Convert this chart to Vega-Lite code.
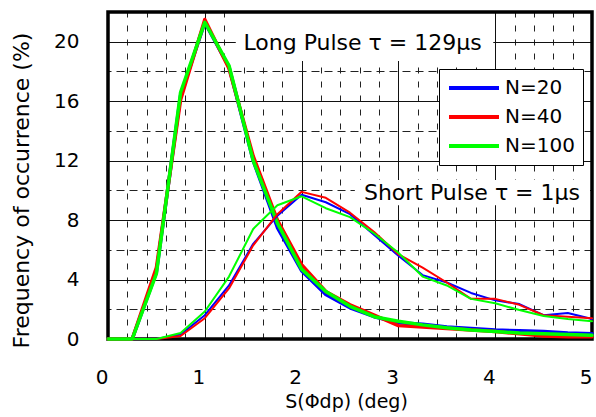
{
  "$schema": "https://vega.github.io/schema/vega-lite/v6.json",
  "width": 484,
  "height": 327,
  "autosize": {"type": "none"},
  "padding": {"left": 108, "top": 12, "right": 4, "bottom": 78},
  "background": "white",
  "config": {
    "view": {"stroke": null},
    "font": "DejaVu Sans",
    "axis": {"labelFont": "DejaVu Sans", "titleFont": "DejaVu Sans", "labelColor": "black", "titleColor": "black", "titleFontWeight": "normal"},
    "legend": {"labelFont": "DejaVu Sans"}
  },
  "datasets": {
    "curves": [
      {"pulse": "Long", "N": "N=20", "x": 0, "y": 0},
      {"pulse": "Long", "N": "N=20", "x": 0.25, "y": 0},
      {"pulse": "Long", "N": "N=20", "x": 0.5, "y": 4.5},
      {"pulse": "Long", "N": "N=20", "x": 0.75, "y": 16.4},
      {"pulse": "Long", "N": "N=20", "x": 1.0, "y": 21.3},
      {"pulse": "Long", "N": "N=20", "x": 1.25, "y": 18.3},
      {"pulse": "Long", "N": "N=20", "x": 1.5, "y": 12.0},
      {"pulse": "Long", "N": "N=20", "x": 1.75, "y": 7.5},
      {"pulse": "Long", "N": "N=20", "x": 2.0, "y": 4.6},
      {"pulse": "Long", "N": "N=20", "x": 2.25, "y": 3.0},
      {"pulse": "Long", "N": "N=20", "x": 2.5, "y": 2.1},
      {"pulse": "Long", "N": "N=20", "x": 2.75, "y": 1.5},
      {"pulse": "Long", "N": "N=20", "x": 3.0, "y": 1.1},
      {"pulse": "Long", "N": "N=20", "x": 3.25, "y": 1.0},
      {"pulse": "Long", "N": "N=20", "x": 3.5, "y": 0.8},
      {"pulse": "Long", "N": "N=20", "x": 3.75, "y": 0.7},
      {"pulse": "Long", "N": "N=20", "x": 4.0, "y": 0.6},
      {"pulse": "Long", "N": "N=20", "x": 4.25, "y": 0.55},
      {"pulse": "Long", "N": "N=20", "x": 4.5, "y": 0.5},
      {"pulse": "Long", "N": "N=20", "x": 4.75, "y": 0.4},
      {"pulse": "Long", "N": "N=20", "x": 5.0, "y": 0.35},
      {"pulse": "Long", "N": "N=40", "x": 0, "y": 0},
      {"pulse": "Long", "N": "N=40", "x": 0.25, "y": 0},
      {"pulse": "Long", "N": "N=40", "x": 0.5, "y": 4.8},
      {"pulse": "Long", "N": "N=40", "x": 0.75, "y": 16.1},
      {"pulse": "Long", "N": "N=40", "x": 1.0, "y": 21.5},
      {"pulse": "Long", "N": "N=40", "x": 1.25, "y": 18.2},
      {"pulse": "Long", "N": "N=40", "x": 1.5, "y": 12.3},
      {"pulse": "Long", "N": "N=40", "x": 1.75, "y": 8.0},
      {"pulse": "Long", "N": "N=40", "x": 2.0, "y": 5.0},
      {"pulse": "Long", "N": "N=40", "x": 2.25, "y": 3.2},
      {"pulse": "Long", "N": "N=40", "x": 2.5, "y": 2.3},
      {"pulse": "Long", "N": "N=40", "x": 2.75, "y": 1.6},
      {"pulse": "Long", "N": "N=40", "x": 3.0, "y": 0.9},
      {"pulse": "Long", "N": "N=40", "x": 3.25, "y": 0.8},
      {"pulse": "Long", "N": "N=40", "x": 3.5, "y": 0.7},
      {"pulse": "Long", "N": "N=40", "x": 3.75, "y": 0.6},
      {"pulse": "Long", "N": "N=40", "x": 4.0, "y": 0.5},
      {"pulse": "Long", "N": "N=40", "x": 4.25, "y": 0.35},
      {"pulse": "Long", "N": "N=40", "x": 4.5, "y": 0.2},
      {"pulse": "Long", "N": "N=40", "x": 4.75, "y": 0.15},
      {"pulse": "Long", "N": "N=40", "x": 5.0, "y": 0.15},
      {"pulse": "Long", "N": "N=100", "x": 0, "y": 0},
      {"pulse": "Long", "N": "N=100", "x": 0.25, "y": 0},
      {"pulse": "Long", "N": "N=100", "x": 0.5, "y": 4.4},
      {"pulse": "Long", "N": "N=100", "x": 0.75, "y": 16.6},
      {"pulse": "Long", "N": "N=100", "x": 1.0, "y": 21.3},
      {"pulse": "Long", "N": "N=100", "x": 1.25, "y": 18.4},
      {"pulse": "Long", "N": "N=100", "x": 1.5, "y": 12.0},
      {"pulse": "Long", "N": "N=100", "x": 1.75, "y": 7.8},
      {"pulse": "Long", "N": "N=100", "x": 2.0, "y": 4.7},
      {"pulse": "Long", "N": "N=100", "x": 2.25, "y": 3.2},
      {"pulse": "Long", "N": "N=100", "x": 2.5, "y": 2.2},
      {"pulse": "Long", "N": "N=100", "x": 2.75, "y": 1.5},
      {"pulse": "Long", "N": "N=100", "x": 3.0, "y": 1.2},
      {"pulse": "Long", "N": "N=100", "x": 3.25, "y": 0.95},
      {"pulse": "Long", "N": "N=100", "x": 3.5, "y": 0.75},
      {"pulse": "Long", "N": "N=100", "x": 3.75, "y": 0.6},
      {"pulse": "Long", "N": "N=100", "x": 4.0, "y": 0.5},
      {"pulse": "Long", "N": "N=100", "x": 4.25, "y": 0.4},
      {"pulse": "Long", "N": "N=100", "x": 4.5, "y": 0.35},
      {"pulse": "Long", "N": "N=100", "x": 4.75, "y": 0.3},
      {"pulse": "Long", "N": "N=100", "x": 5.0, "y": 0.25},
      {"pulse": "Short", "N": "N=20", "x": 0, "y": 0},
      {"pulse": "Short", "N": "N=20", "x": 0.25, "y": 0},
      {"pulse": "Short", "N": "N=20", "x": 0.5, "y": 0},
      {"pulse": "Short", "N": "N=20", "x": 0.75, "y": 0.3},
      {"pulse": "Short", "N": "N=20", "x": 1.0, "y": 1.6},
      {"pulse": "Short", "N": "N=20", "x": 1.25, "y": 3.6},
      {"pulse": "Short", "N": "N=20", "x": 1.5, "y": 6.4},
      {"pulse": "Short", "N": "N=20", "x": 1.75, "y": 8.3},
      {"pulse": "Short", "N": "N=20", "x": 2.0, "y": 9.7},
      {"pulse": "Short", "N": "N=20", "x": 2.25, "y": 9.2},
      {"pulse": "Short", "N": "N=20", "x": 2.5, "y": 8.4},
      {"pulse": "Short", "N": "N=20", "x": 2.75, "y": 7.0},
      {"pulse": "Short", "N": "N=20", "x": 3.0, "y": 5.6},
      {"pulse": "Short", "N": "N=20", "x": 3.25, "y": 4.3},
      {"pulse": "Short", "N": "N=20", "x": 3.5, "y": 3.8},
      {"pulse": "Short", "N": "N=20", "x": 3.75, "y": 3.1},
      {"pulse": "Short", "N": "N=20", "x": 4.0, "y": 2.6},
      {"pulse": "Short", "N": "N=20", "x": 4.25, "y": 2.35},
      {"pulse": "Short", "N": "N=20", "x": 4.5, "y": 1.6},
      {"pulse": "Short", "N": "N=20", "x": 4.75, "y": 1.75},
      {"pulse": "Short", "N": "N=20", "x": 5.0, "y": 1.35},
      {"pulse": "Short", "N": "N=40", "x": 0, "y": 0},
      {"pulse": "Short", "N": "N=40", "x": 0.25, "y": 0},
      {"pulse": "Short", "N": "N=40", "x": 0.5, "y": 0},
      {"pulse": "Short", "N": "N=40", "x": 0.75, "y": 0.2},
      {"pulse": "Short", "N": "N=40", "x": 1.0, "y": 1.4},
      {"pulse": "Short", "N": "N=40", "x": 1.25, "y": 3.4},
      {"pulse": "Short", "N": "N=40", "x": 1.5, "y": 6.3},
      {"pulse": "Short", "N": "N=40", "x": 1.75, "y": 8.4},
      {"pulse": "Short", "N": "N=40", "x": 2.0, "y": 9.9},
      {"pulse": "Short", "N": "N=40", "x": 2.25, "y": 9.5},
      {"pulse": "Short", "N": "N=40", "x": 2.5, "y": 8.5},
      {"pulse": "Short", "N": "N=40", "x": 2.75, "y": 7.2},
      {"pulse": "Short", "N": "N=40", "x": 3.0, "y": 5.7},
      {"pulse": "Short", "N": "N=40", "x": 3.25, "y": 4.8},
      {"pulse": "Short", "N": "N=40", "x": 3.5, "y": 3.8},
      {"pulse": "Short", "N": "N=40", "x": 3.75, "y": 2.7},
      {"pulse": "Short", "N": "N=40", "x": 4.0, "y": 2.7},
      {"pulse": "Short", "N": "N=40", "x": 4.25, "y": 2.3},
      {"pulse": "Short", "N": "N=40", "x": 4.5, "y": 1.6},
      {"pulse": "Short", "N": "N=40", "x": 4.75, "y": 1.5},
      {"pulse": "Short", "N": "N=40", "x": 5.0, "y": 1.4},
      {"pulse": "Short", "N": "N=100", "x": 0, "y": 0},
      {"pulse": "Short", "N": "N=100", "x": 0.25, "y": 0},
      {"pulse": "Short", "N": "N=100", "x": 0.5, "y": 0},
      {"pulse": "Short", "N": "N=100", "x": 0.75, "y": 0.4},
      {"pulse": "Short", "N": "N=100", "x": 1.0, "y": 1.85},
      {"pulse": "Short", "N": "N=100", "x": 1.25, "y": 4.2},
      {"pulse": "Short", "N": "N=100", "x": 1.5, "y": 7.4},
      {"pulse": "Short", "N": "N=100", "x": 1.75, "y": 9.0},
      {"pulse": "Short", "N": "N=100", "x": 2.0, "y": 9.6},
      {"pulse": "Short", "N": "N=100", "x": 2.25, "y": 8.8},
      {"pulse": "Short", "N": "N=100", "x": 2.5, "y": 8.2},
      {"pulse": "Short", "N": "N=100", "x": 2.75, "y": 7.1},
      {"pulse": "Short", "N": "N=100", "x": 3.0, "y": 5.8},
      {"pulse": "Short", "N": "N=100", "x": 3.25, "y": 4.2},
      {"pulse": "Short", "N": "N=100", "x": 3.5, "y": 3.6},
      {"pulse": "Short", "N": "N=100", "x": 3.75, "y": 2.7},
      {"pulse": "Short", "N": "N=100", "x": 4.0, "y": 2.4},
      {"pulse": "Short", "N": "N=100", "x": 4.25, "y": 1.95},
      {"pulse": "Short", "N": "N=100", "x": 4.5, "y": 1.55},
      {"pulse": "Short", "N": "N=100", "x": 4.75, "y": 1.35},
      {"pulse": "Short", "N": "N=100", "x": 5.0, "y": 1.2}
    ],
    "notes": [
      {"label": "Long Pulse τ = 129μs", "x": 2.63, "y": 19.9, "x0": 1.32, "x1": 3.98, "y0": 18.7, "y1": 22},
      {"label": "Short Pulse τ = 1μs", "x": 3.76, "y": 9.83, "x0": 2.55, "x1": 4.98, "y0": 9.0, "y1": 10.7}
    ],
    "frame": [
      {"x0": 0, "x1": 5, "y0": 0, "y1": 22}
    ]
  },
  "resolve": {"axis": {"x": "independent", "y": "independent"}},
  "layer": [
    {
      "data": {"name": "curves"},
      "mark": {"type": "line", "strokeOpacity": 0},
      "encoding": {
        "x": {"field": "x", "type": "quantitative", "scale": {"domain": [0, 5], "nice": false, "zero": false},
          "axis": {"orient": "top", "values": [0.2,0.4,0.6,0.8,1.2,1.4,1.6,1.8,2.2,2.4,2.6,2.8,3.2,3.4,3.6,3.8,4.2,4.4,4.6,4.8], "grid": true, "gridColor": "#222", "gridWidth": 1, "gridDash": [6, 8], "labels": false, "ticks": false, "domain": false, "title": null}},
        "y": {"field": "y", "type": "quantitative", "scale": {"domain": [0, 22], "nice": false, "zero": false},
          "axis": {"orient": "right", "values": [2, 6, 10, 14, 18], "grid": true, "gridColor": "#222", "gridWidth": 1, "gridDash": [8, 5], "labels": false, "ticks": false, "domain": false, "title": null}},
        "detail": {"field": "N"}
      }
    },
    {
      "data": {"name": "notes"},
      "mark": {"type": "rect", "fill": "white", "stroke": null},
      "encoding": {
        "x": {"field": "x0", "type": "quantitative", "axis": null},
        "x2": {"field": "x1"},
        "y": {"field": "y0", "type": "quantitative", "axis": null},
        "y2": {"field": "y1"}
      }
    },
    {
      "data": {"name": "notes"},
      "mark": {"type": "text", "fontSize": 22, "color": "black", "align": "center", "baseline": "middle", "font": "DejaVu Sans"},
      "encoding": {
        "x": {"field": "x", "type": "quantitative", "axis": null},
        "y": {"field": "y", "type": "quantitative", "axis": null},
        "text": {"field": "label"}
      }
    },
    {
      "data": {"name": "frame"},
      "mark": {"type": "rect", "fill": null, "fillOpacity": 0, "stroke": "black", "strokeWidth": 3.5},
      "encoding": {
        "x": {"field": "x0", "type": "quantitative", "axis": null},
        "x2": {"field": "x1"},
        "y": {"field": "y0", "type": "quantitative", "axis": null},
        "y2": {"field": "y1"}
      }
    },
    {
      "data": {"name": "curves"},
      "mark": {"type": "line", "strokeJoin": "round", "strokeCap": "round"},
      "encoding": {
        "x": {"field": "x", "type": "quantitative",
          "axis": {"orient": "bottom", "values": [0, 1, 2, 3, 4, 5], "grid": true, "gridColor": "#111", "gridWidth": 1, "ticks": false, "domain": false, "labelFontSize": 20, "labelPadding": 28, "labelAlign": "right", "labelFlush": false, "title": "S(Φdp) (deg)", "titleFontSize": 19, "titleX": 238, "titleY": 68, "titleBaseline": "alphabetic", "titleAlign": "center"}},
        "y": {"field": "y", "type": "quantitative",
          "axis": {"orient": "left", "values": [0, 4, 8, 12, 16, 20], "grid": true, "gridColor": "#111", "gridWidth": 1, "ticks": false, "domain": false, "labelFontSize": 20, "labelPadding": 29, "title": "Frequency of occurrence (%)", "titleFontSize": 22, "titleX": -80, "titleY": 178, "titleBaseline": "alphabetic", "titleAngle": -90, "titleAlign": "center"}},
        "color": {"field": "N", "type": "nominal", "sort": null,
          "scale": {"domain": ["N=20", "N=40", "N=100"], "range": ["#0000FF", "#FF0000", "#00FF00"]},
          "legend": {"orient": "none", "legendX": 331, "legendY": 57, "title": null, "fillColor": "white", "strokeColor": "black", "padding": 8, "symbolType": "stroke", "symbolSize": 2500, "symbolStrokeWidth": 4, "clipHeight": 22, "rowPadding": 7, "labelFontSize": 20, "labelOffset": 4, "labelColor": "black"}},
        "strokeWidth": {"field": "pulse", "type": "nominal", "scale": {"domain": ["Long", "Short"], "range": [3.5, 2]}, "legend": null},
        "order": {"field": "x", "type": "quantitative"}
      }
    }
  ]
}
